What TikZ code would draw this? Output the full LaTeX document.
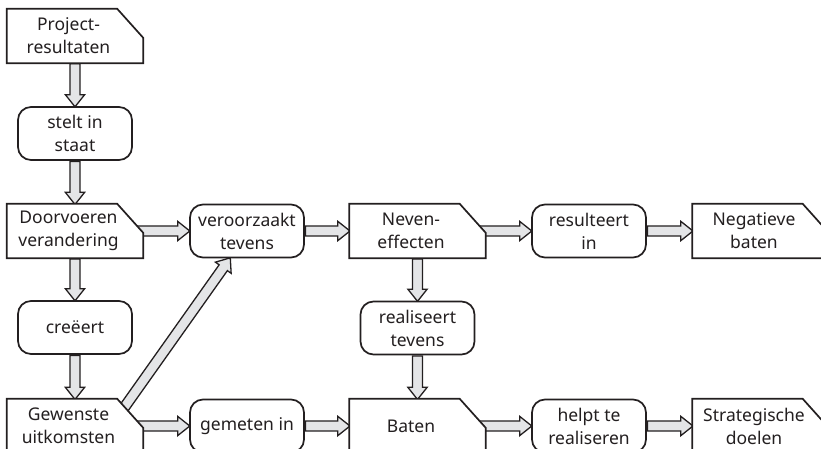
\documentclass[tikz,border=0pt]{standalone}
\usepackage{fontspec}
\setmainfont{Noto Sans}
\usetikzlibrary{shapes.arrows,calc,backgrounds}

\definecolor{ink}{HTML}{231F20}
\definecolor{shaft}{HTML}{E4E5E7}

\newcommand{\fatlink}[2]{\path let \p1=($(#2)-(#1)$), \n1={veclen(\x1,\y1)} in (#1) -- (#2) node[at start, sloped, anchor=tail, fat, minimum height=\n1] {};}

\tikzset{
  box/.style={draw=ink, fill=white, line width=1.7pt, rounded corners=13pt, minimum width=114pt, minimum height=53pt, align=center, text=ink},
  doc/.style={rectangle, minimum width=136pt, minimum height=54pt, inner sep=0pt,
    append after command={\pgfextra{\draw[draw=ink, fill=white, line width=1.7pt, line join=miter]
      (\tikzlastnode.south west) -- (\tikzlastnode.north west) -- ([xshift=-26pt]\tikzlastnode.north east)
      -- ([yshift=-29pt]\tikzlastnode.north east) -- (\tikzlastnode.south east) -- cycle;}},
    label={[txt]center:{#1}}},
  txt/.style={align=center, text=ink, xshift=-6.5pt},
  fat/.style={single arrow, draw=ink, fill=shaft, line width=1.3pt, inner xsep=0pt, inner ysep=4.4pt, minimum width=0pt, single arrow head extend=4.6pt, single arrow tip angle=77, single arrow head indent=0pt}
}

\begin{document}
\begin{tikzpicture}[x=1pt, y=-1pt, font=\fontsize{17.5}{23}\selectfont]
	\useasboundingbox (0,0) rectangle (821,449);
	% left column
	\node[doc={Project-\\resultaten}] (pr) at (75,36) {};
	\node[box] (sis) at (75,133.5) {stelt in\\staat};
	\node[doc={Doorvoeren\\verandering}] (dv) at (75,231) {};
	\node[box] (cr) at (75,327.5) {creëert};
	\node[doc={Gewenste\\uitkomsten}] (gu) at (75,426) {};
	\coordinate (gc) at ([xshift=-18pt, yshift=-9pt]gu.north east);
	% middle
	\node[box] (vt) at (247,231) {veroorzaakt\\tevens};
	\node[box] (gi) at (247,426) {gemeten in};
	\node[doc={Neven-\\effecten}] (ne) at (417.5,231) {};
	\node[box] (rt) at (417.5,328) {realiseert\\tevens};
	\node[doc={Baten}] (ba) at (417.5,426) {};
	% right
	\node[box] (ri) at (589,231) {resulteert\\in};
	\node[box] (hr) at (589,426) {helpt te\\realiseren};
	\node[doc={Negatieve\\baten}] (nb) at (760.5,231) {};
	\node[doc={Strategische\\doelen}] (sd) at (760.5,426) {};
	\begin{scope}[on background layer]
		\fatlink{pr.south}{sis.north}
		\fatlink{sis.south}{dv.north}
		\fatlink{dv.south}{cr.north}
		\fatlink{cr.south}{gu.north}
		\fatlink{[xshift=-8pt]dv.east}{vt.west}
		\fatlink{vt.east}{ne.west}
		\fatlink{[xshift=-8pt]ne.east}{ri.west}
		\fatlink{ri.east}{nb.west}
		\fatlink{ne.south}{rt.north}
		\fatlink{rt.south}{ba.north}
		\fatlink{[xshift=-8pt]gu.east}{gi.west}
		\fatlink{gi.east}{ba.west}
		\fatlink{[xshift=-8pt]ba.east}{hr.west}
		\fatlink{hr.east}{sd.west}
		\fatlink{[xshift=-4pt, yshift=-4pt]gc}{vt.238}
	\end{scope}
\end{tikzpicture}
\end{document}
